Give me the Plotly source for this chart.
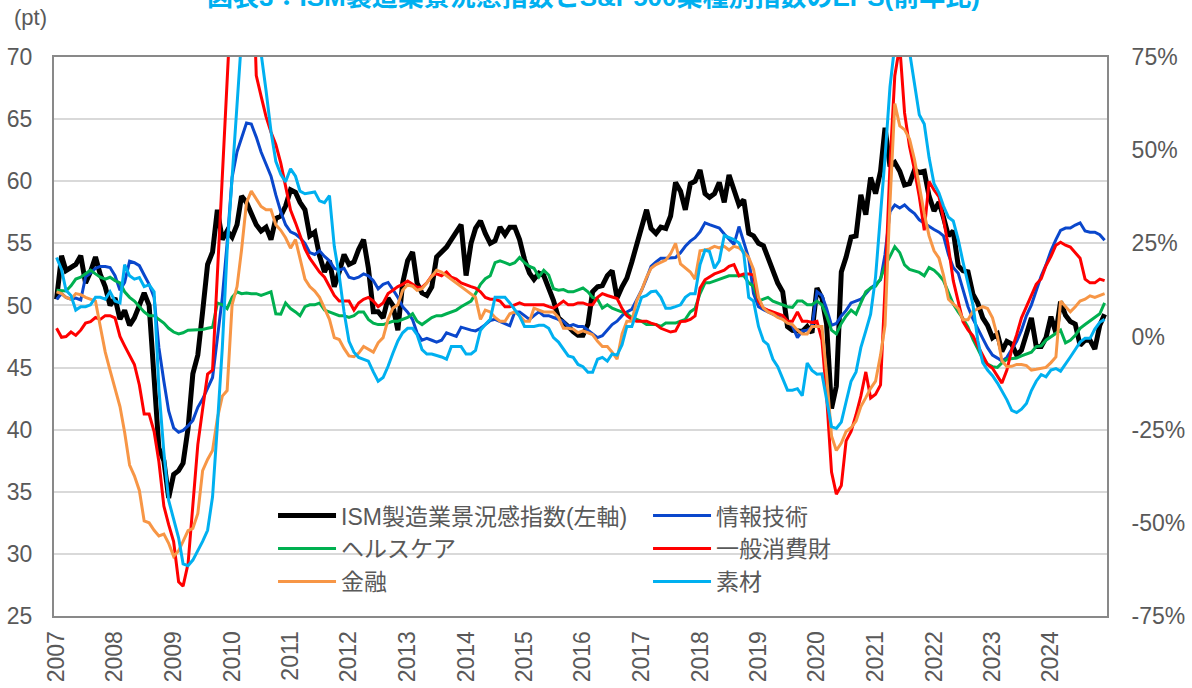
import plotly.graph_objects as go

months = [f"{y}-{m:02d}-01" for y in range(2007, 2025) for m in range(1, 13)]
year_ticks = [f"{y}-01-01" for y in range(2007, 2025)]
year_labels = [str(y) for y in range(2007, 2025)]

ism = [
    50.5, 54.0, 52.8, 53.0, 53.3, 54.0, 51.8, 52.7, 53.9, 52.5, 51.5, 50.0,
    50.6, 48.9, 49.6, 48.4, 49.0, 50.0, 51.0, 50.0, 44.0, 38.5, 37.5, 34.5,
    36.4, 36.7, 37.3, 40.1, 44.5, 46.0, 49.5, 53.3, 54.3, 57.7, 55.3, 56.0,
    55.5, 56.5, 58.8, 58.3, 57.4, 56.5, 56.0, 56.3, 55.3, 57.0, 57.2, 58.0,
    59.3, 59.1, 58.3, 57.7, 55.6, 55.9, 54.0, 52.7, 53.6, 51.5, 52.7, 54.1,
    53.3, 53.5, 54.5, 55.3, 53.0, 49.5, 49.5, 49.0, 50.6, 50.0, 48.0, 51.8,
    53.6, 54.3, 51.8, 51.0, 50.8, 51.5, 53.9, 54.3, 54.7, 55.3, 56.0, 56.5,
    52.4, 55.0, 56.2, 56.8, 55.8, 55.0, 55.2, 56.3, 55.7, 56.3, 56.3, 55.3,
    53.7, 52.6, 52.1, 52.6, 52.4, 51.5, 50.4, 49.0, 48.7, 48.3, 47.9, 47.6,
    47.6, 48.5, 51.1, 51.5, 51.6, 52.4, 52.8, 50.6, 51.5, 52.2, 53.5, 54.9,
    56.2, 57.7, 56.2, 55.8, 56.3, 56.2, 57.2, 59.9, 59.2, 57.7, 59.8, 60.0,
    60.9, 59.0, 58.7, 59.0, 59.9, 58.3, 60.5, 59.4, 58.1, 58.5, 55.8, 55.6,
    55.0, 54.8, 53.9, 52.8, 51.8, 51.1, 48.3, 48.0, 48.0, 47.9, 48.3, 47.8,
    51.4, 50.6, 48.5, 41.7, 43.5, 52.7, 53.9, 55.5, 55.6, 58.9, 57.3, 60.3,
    59.0, 60.8, 64.3, 61.2, 61.5, 60.8, 59.7, 59.8, 60.9, 60.7, 60.8, 58.8,
    57.6, 58.3, 57.1, 55.6, 56.0, 53.2, 52.8, 52.7, 50.9, 50.2, 49.0, 48.4,
    47.4, 47.7, 46.3, 47.1, 46.9, 46.0, 46.4, 47.6, 49.0, 46.7, 46.7, 47.4,
    49.1, 47.8, 50.3, 49.2, 48.7, 48.5, 46.8, 47.2, 47.2, 46.5, 48.4, 49.3,
]

info_tech = [
    10.0, 11.5, 10.5, 10.0, 10.3, 9.8, 16.0, 17.0, 18.3, 18.8, 18.8, 18.5,
    16.3, 12.4, 14.5, 20.2, 19.8, 19.0, 16.5, 14.0, 10.5, -3.0, -12.0, -20.0,
    -24.5, -25.7, -25.2, -24.0, -22.5, -19.0, -16.8, -13.9, -11.0, -0.5, 10.5, 25.0,
    42.7, 49.6, 53.5, 57.3, 57.0, 53.5, 49.5, 46.5, 43.0, 38.0, 33.5, 30.0,
    28.1, 27.5, 26.5, 25.0, 22.5, 22.0, 23.0, 21.5, 20.3, 18.3, 17.8, 18.3,
    15.9, 15.5, 15.9, 16.8, 16.3, 15.0, 12.8, 14.0, 14.5, 12.6, 10.5, 8.0,
    6.5, 4.5, 1.0, -1.0, -0.5, -1.0, -1.5, -1.0, 1.0, 0.5, 0.0, 2.5,
    2.0, 1.7, 1.5, 2.2, 3.2, 4.3, 4.6, 4.0, 3.5, 2.9, 6.6, 6.6,
    5.6, 4.6, 5.6, 6.6, 5.6, 5.6, 5.1, 4.6, 4.1, 2.7, 3.2, 2.7,
    2.7, 1.7, 0.7, -0.3, 0.2, 1.7, 3.2, 4.1, 5.6, 6.6, 7.3, 9.8,
    12.4, 15.6, 18.8, 20.0, 21.0, 21.0, 21.0, 21.2, 22.5, 24.2, 25.6, 26.5,
    28.1, 30.5, 30.0, 29.5, 29.1, 27.5, 26.1, 24.7, 29.5, 25.0, 21.0, 11.5,
    8.0, 7.2, 6.6, 6.0, 5.5, 4.8, 4.1, 2.8, -0.3, 1.5, 1.7, 2.5,
    12.0, 11.0, 7.5, 3.0, 3.5, 5.5, 7.0, 9.0, 9.5, 10.0, 11.5, 13.0,
    14.0, 15.2, 22.0, 33.5, 35.3, 34.5, 35.3, 34.0, 33.0, 31.3, 30.4, 29.5,
    28.7, 28.0, 27.0, 22.0, 18.5, 17.0, 12.5, 8.0, 4.7, 2.0, -0.5, -3.0,
    -5.0, -5.8, -6.6, -5.6, -3.3, -1.3, 1.7, 5.6, 8.5, 12.4, 16.2, 19.2,
    23.0, 26.0, 28.5, 29.1, 29.1, 29.9, 30.5, 28.3, 28.0, 28.0, 27.3, 25.8,
]

health_care = [
    12.4, 12.4, 12.2, 13.6, 15.4, 15.9, 16.8, 17.8, 16.8, 15.9, 15.4, 15.9,
    15.0, 14.4, 12.0, 10.5, 9.5, 8.0, 6.6, 5.6, 5.6, 4.6, 3.6, 2.2,
    1.2, 0.7, 1.0, 1.7, 1.7, 1.7, 1.9, 2.2, 2.5, 9.0, 8.5, 7.5,
    10.5, 12.0, 11.5, 11.7, 11.5, 11.5, 11.0, 11.5, 12.0, 6.1, 6.0, 9.0,
    7.5, 6.6, 5.6, 8.0, 8.5, 8.5, 9.0, 7.1, 6.6, 6.0, 5.6, 5.6,
    5.1, 5.6, 6.6, 6.6, 4.6, 3.6, 3.2, 3.2, 3.6, 4.1, 4.1, 4.6,
    5.1, 6.1, 4.1, 3.2, 4.1, 5.1, 5.6, 5.6, 6.1, 6.6, 7.1, 8.0,
    8.8, 9.5, 11.5, 14.0, 15.5, 16.3, 19.8, 20.3, 19.8, 19.3, 19.8, 21.2,
    19.8, 18.8, 18.3, 16.0, 17.8, 16.5, 12.8, 12.4, 12.6, 12.0, 12.0, 12.4,
    13.0, 12.0, 10.5, 10.0, 7.6, 8.5, 7.6, 7.1, 6.6, 6.1, 5.1, 4.6,
    4.1, 3.2, 3.2, 3.2, 2.7, 3.6, 3.6, 3.6, 4.1, 4.6, 6.6, 7.5,
    11.5, 14.4, 14.4, 14.9, 15.4, 15.9, 16.3, 16.3, 16.3, 16.3, 14.4, 13.5,
    9.5, 10.0, 10.5, 9.5, 9.0, 8.5, 8.0, 7.8, 9.5, 9.5, 8.5, 8.5,
    9.5, 8.5, 5.6, 1.7, 0.7, 3.5, 5.5, 7.1, 6.0, 9.0, 12.0, 13.0,
    13.5, 15.5, 19.0, 21.5, 24.1, 22.5, 19.2, 18.0, 17.6, 17.2, 16.3, 18.5,
    17.8, 16.5, 15.0, 12.0, 8.7, 6.6, 4.8, 2.5, -0.8, -3.3, -6.0, -7.4,
    -8.1, -8.3, -7.1, -6.1, -6.0, -5.8, -5.2, -4.7, -4.2, -2.7, -2.5, -1.0,
    0.0, 1.0, 1.7, -1.7, -1.0, 0.3, 2.2, 3.2, 4.1, 5.0, 6.1, 9.0,
]

cons_disc = [
    2.2, -0.2, 0.0, 1.2, 0.3, 1.7, 3.6, 4.0, 5.1, 4.6, 5.6, 5.6,
    5.0, 0.0, -2.5, -5.0, -7.5, -13.0, -20.8, -20.8, -25.5, -33.6, -45.5, -50.5,
    -55.0, -65.8, -67.0, -61.0, -44.0, -29.0, -19.5, -10.1, -9.0, 17.0, 42.7, 66.0,
    95.0, 130.0, 160.0, 150.0, 110.0, 70.0, 64.5, 59.0, 54.8, 51.5, 46.5, 40.5,
    33.9, 30.5, 27.1, 23.5, 21.0, 19.0, 17.3, 15.9, 13.4, 11.0, 9.5, 9.5,
    9.5, 7.1, 9.0, 10.0, 10.5, 9.5, 8.0, 9.0, 11.5, 12.4, 13.4, 14.0,
    14.9, 14.0, 13.2, 13.2, 14.4, 16.3, 16.8, 16.3, 17.3, 15.9, 15.4, 14.4,
    14.0, 13.4, 13.0, 12.0, 10.5, 10.0, 10.0, 9.5, 8.0, 8.0, 8.5, 9.0,
    8.5, 8.5, 8.5, 8.5, 8.5, 8.0, 7.6, 8.5, 9.5, 8.5, 8.5, 9.0,
    9.0, 8.5, 8.5, 10.5, 11.5, 11.0, 10.5, 10.2, 7.5, 5.6, 4.6, 4.1,
    4.1, 4.1, 3.6, 3.2, 2.2, 1.7, 1.2, 1.5, 4.0, 4.1, 4.6, 5.5,
    13.0, 15.2, 15.9, 16.8, 17.3, 17.8, 18.8, 19.3, 16.3, 16.8, 16.8, 16.5,
    9.5, 7.6, 7.1, 6.6, 6.1, 5.6, 4.1, 4.1, 6.6, 4.1, 4.1, 3.8,
    4.1, -1.0, -15.9, -36.4, -42.3, -40.0, -28.0, -25.5, -21.0, -16.0, -9.5, -16.5,
    -15.5, -13.0, 13.0, 46.0, 70.0, 78.0, 60.0, 51.0, 44.7, 37.5, 28.5, 41.6,
    39.3, 37.5, 31.5, 24.0, 15.0, 9.0, 4.0, 1.8, 0.2, -2.5, -5.0, -7.5,
    -8.5, -10.5, -12.5, -9.0, -3.5, 0.5, 5.0, 8.0, 11.0, 14.0, 15.5, 19.0,
    21.5, 24.5, 25.3, 24.5, 24.0, 22.5, 21.0, 15.4, 14.4, 14.4, 15.4, 15.0,
]

financials = [
    12.0, 11.5, 10.5, 10.0, 11.5, 11.2, 10.5, 10.0, 9.5, 2.7, -4.2, -9.1,
    -13.9, -18.8, -25.7, -34.5, -37.4, -41.3, -49.5, -50.0, -52.0, -53.5, -53.0, -55.5,
    -59.0, -57.5, -55.0, -52.1, -51.5, -47.5, -36.0, -33.0, -30.6, -22.0, -16.0, -14.5,
    8.5, 13.4, 23.2, 35.9, 39.0, 37.0, 34.9, 34.0, 34.0, 30.0, 28.5, 26.5,
    23.7, 26.0, 21.2, 15.4, 13.4, 12.2, 10.5, 7.6, 4.6, -0.3, -0.8, -3.2,
    -5.2, -5.4, -4.5, -2.7, -3.5, -4.2, -1.7, -0.3, 4.6, 7.6, 8.5, 12.4,
    13.9, 13.5, 12.4, 12.8, 14.4, 16.3, 17.8, 17.3, 16.3, 15.4, 14.5, 13.4,
    12.4, 11.5, 10.5, 4.6, 7.1, 6.6, 5.1, 4.1, 4.1, 6.1, 6.6, 5.6,
    4.1, 4.1, 7.6, 7.1, 6.6, 6.6, 6.6, 5.1, 2.2, 2.2, 2.0, 1.0,
    1.5, 1.0, 0.5, -1.3, -2.7, -2.7, -4.2, -6.1, 0.7, 4.1, 4.1, 9.5,
    12.4, 15.9, 18.3, 19.3, 19.8, 20.5, 22.2, 25.0, 19.5, 18.5, 17.3, 15.4,
    23.0, 23.2, 23.5, 24.2, 23.8, 24.2, 23.2, 24.2, 23.8, 22.7, 21.2, 18.0,
    10.5, 7.6, 6.6, 6.0, 5.1, 4.6, 3.6, 3.2, 1.7, 0.7, 0.7, 2.7,
    2.7, 2.7, -10.1, -26.7, -30.6, -28.6, -25.5, -24.5, -22.7, -18.8, -16.4, -13.9,
    -12.0, -5.0, 3.0, 36.0, 62.5, 56.5, 55.5, 53.0, 47.5, 40.0, 33.0, 27.0,
    23.0, 21.0, 16.5, 10.0, 8.7, 7.5, 4.5, 4.5, 6.8, 7.5, 8.0, 7.5,
    5.0, 0.0, -6.5, -8.1, -8.0, -7.5, -7.5, -7.8, -9.0, -8.8, -8.5, -8.3,
    -7.0, -5.5, 9.5, 8.0, 6.6, 8.0, 9.5, 10.0, 10.9, 10.5, 11.0, 11.5,
]

materials = [
    21.2, 18.0, 12.4, 11.0, 7.1, 8.0, 8.0, 8.5, 10.5, 10.5, 10.0, 12.0,
    9.5, 9.0, 19.3, 16.3, 15.4, 15.8, 13.4, 13.9, 12.0, -14.0, -31.0, -44.0,
    -49.0, -54.0, -61.0, -61.5, -60.0, -57.5, -55.0, -52.0, -43.0, -24.0, -3.0, 23.0,
    42.7, 62.0, 80.0, 110.0, 120.0, 95.0, 76.0, 66.0, 55.0, 47.0, 43.5, 41.5,
    45.0, 43.0, 39.0, 38.3, 38.5, 38.8, 36.4, 35.9, 37.8, 24.2, 16.3, 6.6,
    -1.3, -4.2, -5.6, -6.1, -6.6, -9.5, -12.0, -11.0, -8.0, -4.5, -1.2, 1.0,
    2.2, 2.2, 0.5, -3.5, -4.7, -4.7, -5.0, -5.5, -6.1, -2.7, -2.7, -2.7,
    -4.7, -4.7, -3.7, 1.7, 3.2, 4.6, 10.5, 10.5, 10.5, 9.0, 7.1, 5.5,
    2.7, 2.7, 2.7, 3.0, 3.0, 2.2, -0.3, -1.5, -3.5, -5.2, -5.6, -7.5,
    -8.1, -9.6, -9.6, -6.1, -5.6, -6.6, -4.7, -5.0, -2.2, 2.7, 2.7, 6.6,
    10.5, 11.0, 12.0, 12.2, 10.5, 7.6, 7.6, 8.0, 8.5, 10.5, 11.5, 11.5,
    19.3, 23.2, 22.8, 18.3, 20.3, 27.1, 26.6, 26.0, 25.1, 22.2, 10.5, 9.5,
    2.7, -1.2, -2.2, -6.1, -8.1, -11.5, -14.4, -14.4, -14.0, -15.9, -7.1, -9.1,
    -10.1, -10.0, -16.9, -24.2, -24.7, -23.0, -17.5, -12.0, -9.5, -3.0, 1.5, 6.0,
    16.0, 32.0, 48.0, 67.0, 78.0, 90.0, 85.0, 76.0, 68.0, 59.5, 57.0, 48.0,
    41.0, 38.5, 35.0, 32.0, 31.0, 26.0, 20.0, 13.8, 8.5, -1.0, -7.0, -9.0,
    -10.5, -12.5, -14.5, -17.0, -19.8, -20.4, -19.5, -18.0, -14.5, -12.0, -10.2, -10.8,
    -9.0, -8.6, -9.3, -7.5, -5.5, -3.5, -1.5, -0.5, -0.5, 2.0, 3.8, 4.6,
]

left_ticks = [25, 30, 35, 40, 45, 50, 55, 60, 65, 70]
right_ticks = [-75, -50, -25, 0, 25, 50, 75]
right_labels = ["-75%", "-50%", "-25%", "0%", "25%", "50%", "75%"]

FONT = "Liberation Sans, Arial, Noto Sans CJK JP, sans-serif"
GRAY = "#595959"
BORDER = "#898989"

series = [
    ("ISM製造業景況感指数(左軸)", ism, "#000000", 5, "y"),
    ("情報技術", info_tech, "#0A47CC", 3, "y2"),
    ("ヘルスケア", health_care, "#00B050", 3, "y2"),
    ("一般消費財", cons_disc, "#FF0000", 3, "y2"),
    ("金融", financials, "#F79646", 3, "y2"),
    ("素材", materials, "#00B0F0", 3, "y2"),
]

fig = go.Figure()
for name, vals, color, width, yax in series:
    fig.add_trace(go.Scatter(
        x=months, y=vals, name=name, mode="lines", yaxis=yax,
        line=dict(color=color, width=width),
    ))

fig.update_layout(
    width=1192, height=688,
    margin=dict(l=54, r=85, t=57, b=72),
    paper_bgcolor="white", plot_bgcolor="white",
    font=dict(family=FONT, size=23, color=GRAY),
    showlegend=True,
    legend=dict(
        orientation="h", x=0.208, y=0.218, xanchor="left", yanchor="top",
        bgcolor="rgba(0,0,0,0)", font=dict(size=23, color=GRAY),
        entrywidth=302, itemwidth=58, tracegroupgap=0,
    ),
    xaxis=dict(
        type="date", range=["2006-12-16", "2024-12-16"], automargin=False,
        tickvals=year_ticks, ticktext=year_labels, tickangle=-90,
        showgrid=False, showline=True, linecolor=BORDER, linewidth=2,
        mirror=True, ticks="", tickfont=dict(size=23, color=GRAY),
        ticklabelstandoff=4,
    ),
    yaxis=dict(
        range=[25, 70], tickvals=left_ticks, showgrid=True, automargin=False,
        gridcolor="#D9D9D9", gridwidth=1.5, showline=True,
        linecolor=BORDER, linewidth=2, mirror=True, ticks="",
        zeroline=False, tickfont=dict(size=23, color=GRAY),
        ticklabelstandoff=15,
    ),
    yaxis2=dict(
        range=[-75, 75], tickvals=right_ticks, ticktext=right_labels,
        overlaying="y", side="right", showgrid=False, zeroline=False,
        automargin=False, showline=True, linecolor=BORDER, linewidth=2,
        ticks="", tickfont=dict(size=23, color=GRAY), ticklabelstandoff=18,
    ),
    annotations=[
        dict(text="<b>図表3：ISM製造業景況感指数とS&P500業種別指数のEPS(前年比)</b>",
             xref="paper", yref="paper", x=0.5128, y=1.0775,
             xanchor="center", yanchor="bottom", showarrow=False,
             font=dict(size=26, color="#00B0F0")),
        dict(text="(pt)", xref="paper", yref="paper", x=-0.04, y=1.07,
             xanchor="left", yanchor="middle", showarrow=False,
             font=dict(size=22, color=GRAY)),
    ],
)

fig.write_html(
    "out.html",
    config={"displayModeBar": False},
    post_script="document.body.style.margin='0';document.body.style.overflow='hidden';",
)
